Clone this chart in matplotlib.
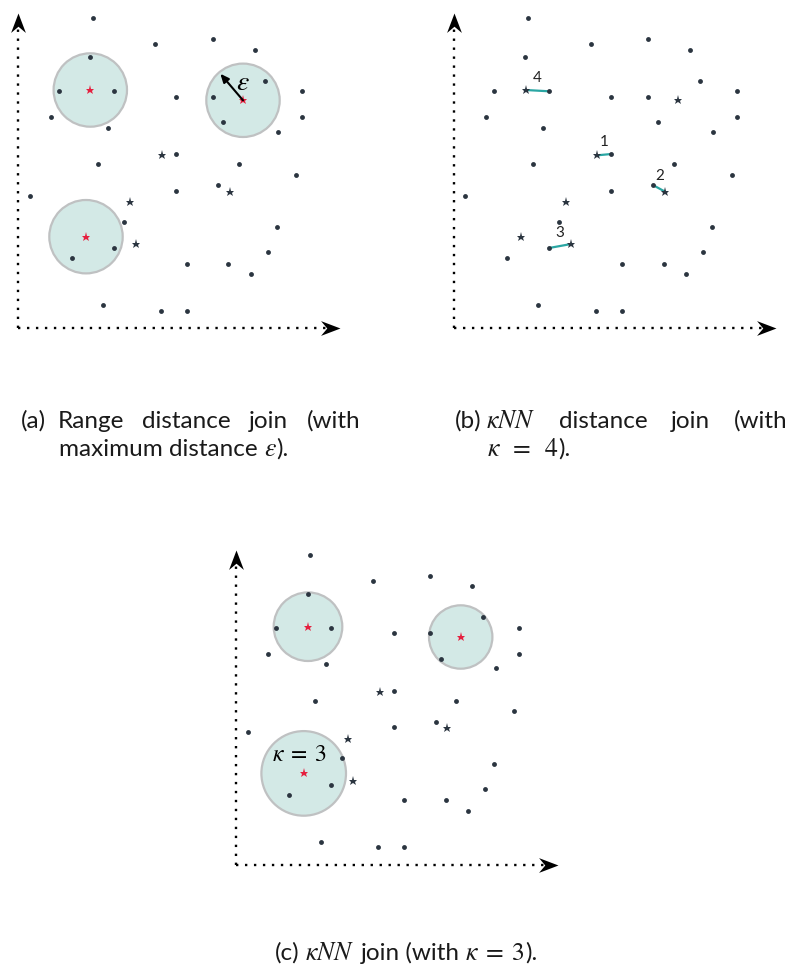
import numpy as np
import matplotlib
matplotlib.use("Agg")
import matplotlib.pyplot as plt
import matplotlib.patches as mpatches
from matplotlib.path import Path
from matplotlib.transforms import Affine2D

plt.rcParams["mathtext.fontset"] = "stix"
plt.rcParams["font.family"] = ["Lato", "DejaVu Sans"]

W, H = 800, 967

# data points, same layout in all three panels (units = pixels from axis origin)
pts_x = [74.4, 137.0, 194.4, 236.4, 71.7, 40.4, 95.4, 32.4, 89.7, 157.7, 246.7, 194.4,
         204.7, 283.4, 283.4, 259.7, 157.7, 79.4, 220.4, 278.0, 11.7, 157.7, 199.7,
         105.7, 95.4, 53.4, 258.4, 249.4, 168.4, 210.0, 232.4, 84.7, 142.4, 168.4]
pts_y = [310.3, 284.0, 289.3, 278.6, 271.0, 237.0, 237.0, 211.0, 200.6, 231.6, 247.6,
         231.6, 206.0, 237.0, 211.0, 196.6, 174.3, 164.0, 164.0, 153.6, 132.6, 137.6,
         143.0, 106.6, 80.3, 70.0, 101.3, 76.3, 64.6, 64.6, 54.3, 23.0, 17.6, 17.6]

# query points (stars); the first three get a search region drawn
qry_x = [72.0, 224.7, 67.7, 143.7, 211.4, 112.0, 117.4]
qry_y = [238.3, 228.0, 91.6, 173.0, 136.6, 126.3, 84.3]

eps = 36.7                       # range join radius
knn_radius = [34.3, 31.7, 42.3]  # kNN join: radius reaching the 3rd neighbour

# (b) kNN distance join, pairs in rank order
knn_rank = [1, 2, 3, 4]
knn_query = [3, 4, 6, 0]
knn_point = [16, 22, 24, 6]

DOT = "#2b3540"
RED = "#e5203f"
FILL = "#d3e9e6"
EDGE = "#bfc1c2"
TEAL = "#2aa6a3"

fig = plt.figure(figsize=(W / 100, H / 100), dpi=100)
TR = Affine2D().scale(1, -1).translate(0, H)   # figure pixels, y down


def panel(origin, box):
    ox, oy = origin
    l, t, r, b = box
    ax = fig.add_axes([l / W, 1 - b / H, (r - l) / W, (b - t) / H])
    ax.set_xlim(l - ox, r - ox)
    ax.set_ylim(oy - b, oy - t)
    ax.set_axis_off()
    # dotted axes with stealth heads
    xlen, ylen = 322, 315
    ax.plot([0, xlen - 10], [0, 0], color="k", lw=1.7, dashes=(1.0, 2.8))
    ax.plot([0, 0], [0, ylen - 10], color="k", lw=1.7, dashes=(1.0, 2.8))
    head_r = Path([(0, 0), (-1, 0.38), (-0.68, 0), (-1, -0.38), (0, 0)],
                  [Path.MOVETO, Path.LINETO, Path.LINETO, Path.LINETO, Path.CLOSEPOLY])
    head_u = Path([(0, 0), (0.38, -1), (0, -0.68), (-0.38, -1), (0, 0)],
                  [Path.MOVETO, Path.LINETO, Path.LINETO, Path.LINETO, Path.CLOSEPOLY])
    ax.plot([xlen], [0], marker=head_r, ms=28, color="k", mew=0)
    ax.plot([0], [ylen], marker=head_u, ms=28, color="k", mew=0)
    return ax


def points(ax, red_first):
    ax.plot(pts_x, pts_y, "o", ms=3.5, color=DOT, mew=0, zorder=4)
    n = 3 if red_first else 0
    ax.plot(qry_x[n:], qry_y[n:], "*", ms=6.8, color=DOT, mew=0, zorder=4)
    if red_first:
        ax.plot(qry_x[:3], qry_y[:3], "*", ms=6.8, color=RED, mew=0, zorder=5)


# (a) range distance join
ax_a = panel((18.3, 328.3), (0, 0, 400, 350))
for i in range(3):
    ax_a.add_patch(mpatches.Circle((qry_x[i], qry_y[i]), eps, fc=FILL, ec=EDGE, lw=1.6, zorder=2))
points(ax_a, True)
ang = np.deg2rad(130.5)
ax_a.annotate("", xy=(qry_x[1] + 0.95 * eps * np.cos(ang), qry_y[1] + 0.95 * eps * np.sin(ang)),
              xytext=(qry_x[1], qry_y[1]),
              arrowprops=dict(arrowstyle="-|>,head_length=0.5,head_width=0.22", color="k", lw=1.5,
                              shrinkA=0, shrinkB=0), zorder=6)
ax_a.text(qry_x[1] - 0.5, qry_y[1] + 18, r"$\varepsilon$", fontsize=20, ha="center", va="center")

# (b) kNN distance join
ax_b = panel((453.7, 328.3), (400, 0, 800, 350))
for rk, qi, pj in zip(knn_rank, knn_query, knn_point):
    ax_b.plot([qry_x[qi], pts_x[pj]], [qry_y[qi], pts_y[pj]], color=TEAL, lw=1.6, zorder=3)
    mx = (qry_x[qi] + pts_x[pj]) / 2
    my = (qry_y[qi] + pts_y[pj]) / 2
    ax_b.text(mx, my + 13, str(rk), fontsize=11, ha="center", va="center", color="#222222")
points(ax_b, False)

# (c) kNN join
ax_c = panel((236, 865), (200, 530, 600, 890))
for i in range(3):
    ax_c.add_patch(mpatches.Circle((qry_x[i], qry_y[i]), knn_radius[i], fc=FILL, ec=EDGE, lw=1.6, zorder=2))
points(ax_c, True)
ax_c.text(qry_x[2] - 32, qry_y[2] + 12, r"$\kappa\;=\;3$", fontsize=17, ha="left", va="baseline")

# captions
renderer = fig.canvas.get_renderer()
FS = 17.5    # caption text
MFS = 18.5   # caption maths


def put_word(parts, x, y):
    texts = []
    for s in parts:
        if isinstance(s, (int, float)):
            x += s
            continue
        size = MFS if s.startswith("$") else FS
        t = fig.text(x, y, s, transform=TR, fontsize=size, ha="left", va="baseline", color="#1a1a1a")
        x += t.get_window_extent(renderer).width
        texts.append(t)
    return texts, x


def justified(words, x0, x1, y):
    items = [put_word(w, 0, y) for w in words]
    widths = [end for _, end in items]
    gap = (x1 - x0 - sum(widths)) / (len(words) - 1)
    x = x0
    for (texts, _), w in zip(items, widths):
        for t in texts:
            t.set_x(t.get_position()[0] + x)
        x += w + gap


put_word(["(a)"], 20.5, 428)
justified([["Range"], ["distance"], ["join"], ["(with"]], 57.3, 360, 428)
put_word(["maximum distance", 6, r"$\varepsilon$", ")."], 59, 456)

put_word(["(b)"], 455, 428)
justified([[r"$\kappa NN$"], ["distance"], ["join"], ["(with"]], 486, 787, 428)
put_word([r"$\kappa\;\;=\;\;4$", ")."], 487, 456)

texts, end = put_word(["(c)", 6, r"$\kappa NN$", 6, "join (with", 6, r"$\kappa\;=\;3$", ")."], 0, 960)
shift = 406 - end / 2
for t in texts:
    t.set_x(t.get_position()[0] + shift)

fig.savefig("out.png", dpi=100)
